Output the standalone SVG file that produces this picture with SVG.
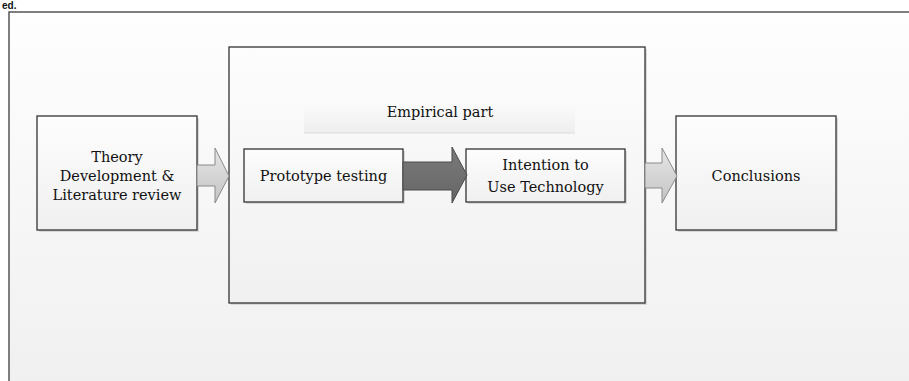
<svg xmlns="http://www.w3.org/2000/svg" width="909" height="381" viewBox="0 0 909 381">
<defs>
<linearGradient id="bg" x1="0" y1="0" x2="0" y2="1"><stop offset="0" stop-color="#fefefe"/><stop offset="1" stop-color="#efefef"/></linearGradient>
<linearGradient id="box" x1="0" y1="0" x2="0" y2="1"><stop offset="0" stop-color="#fdfdfd"/><stop offset="1" stop-color="#f0f0f0"/></linearGradient>
<linearGradient id="lbl" x1="0" y1="0" x2="0" y2="1"><stop offset="0" stop-color="#fcfcfc"/><stop offset="1" stop-color="#eeeeee"/></linearGradient>
<linearGradient id="la" x1="0" y1="0" x2="0" y2="1"><stop offset="0" stop-color="#e6e6e6"/><stop offset="1" stop-color="#c4c4c4"/></linearGradient>
<linearGradient id="da" x1="0" y1="0" x2="0" y2="1"><stop offset="0" stop-color="#7a7a7a"/><stop offset="1" stop-color="#666"/></linearGradient>
</defs>
<style>
.t{font-family:"DejaVu Serif","Liberation Serif",serif;font-size:14.5px;fill:#111;text-anchor:middle}
.bx{fill:url(#box);stroke:#333;stroke-width:1.3}
.sh{fill:#d8d8d8}
.la{fill:url(#la);stroke:#8a8a8a;stroke-width:1}
.da{fill:url(#da);stroke:#4a4a4a;stroke-width:1}
</style>
<rect width="909" height="381" fill="#fff"/>
<text x="2" y="9" font-family="Liberation Sans,Arial,sans-serif" font-size="10" font-weight="bold" fill="#111">ed.</text>
<rect id="frame" x="9" y="12" width="920" height="400" fill="url(#bg)" stroke="#555" stroke-width="1.5"/>
<g id="empirical">
<rect class="sh" x="231" y="49" width="416" height="256"/>
<rect class="bx" x="229" y="47" width="416" height="256" stroke="#222" stroke-width="1.5"/>
</g>
<g id="empirical-label">
<rect x="304" y="100" width="271" height="33" fill="url(#lbl)"/>
<line x1="304" y1="133" x2="575" y2="133" stroke="#dcdcdc"/>
<text class="t" x="440" y="117">Empirical part</text>
</g>
<g id="theory">
<rect class="sh" x="39" y="118" width="160" height="114"/>
<rect class="bx" x="37" y="116" width="160" height="114"/>
<text class="t" x="117" y="162">Theory</text>
<text class="t" x="117" y="181">Development &amp;</text>
<text class="t" x="117" y="200">Literature review</text>
</g>
<g id="prototype">
<rect class="sh" x="246" y="151" width="159" height="53"/>
<rect class="bx" x="244" y="149" width="159" height="53"/>
<text class="t" x="323.5" y="181">Prototype testing</text>
</g>
<g id="intention">
<rect class="sh" x="468" y="151" width="159" height="53"/>
<rect class="bx" x="466" y="149" width="159" height="53"/>
<text class="t" x="545.5" y="170">Intention to</text>
<text class="t" x="545.5" y="192">Use Technology</text>
</g>
<g id="conclusions">
<rect class="sh" x="678" y="118" width="160" height="114"/>
<rect class="bx" x="676" y="116" width="160" height="114"/>
<text class="t" x="756" y="181" font-size="15">Conclusions</text>
</g>
<g id="connectors">
<path class="la" d="M197,165 H215 V148 L229,176 L215,203 V186 H197 Z"/>
<path class="da" d="M403,162 H452 V147 L467,175 L452,203 V190 H403 Z"/>
<path class="la" d="M645,163 H662 V148 L677,176 L662,203 V188 H645 Z"/>
</g>
</svg>
